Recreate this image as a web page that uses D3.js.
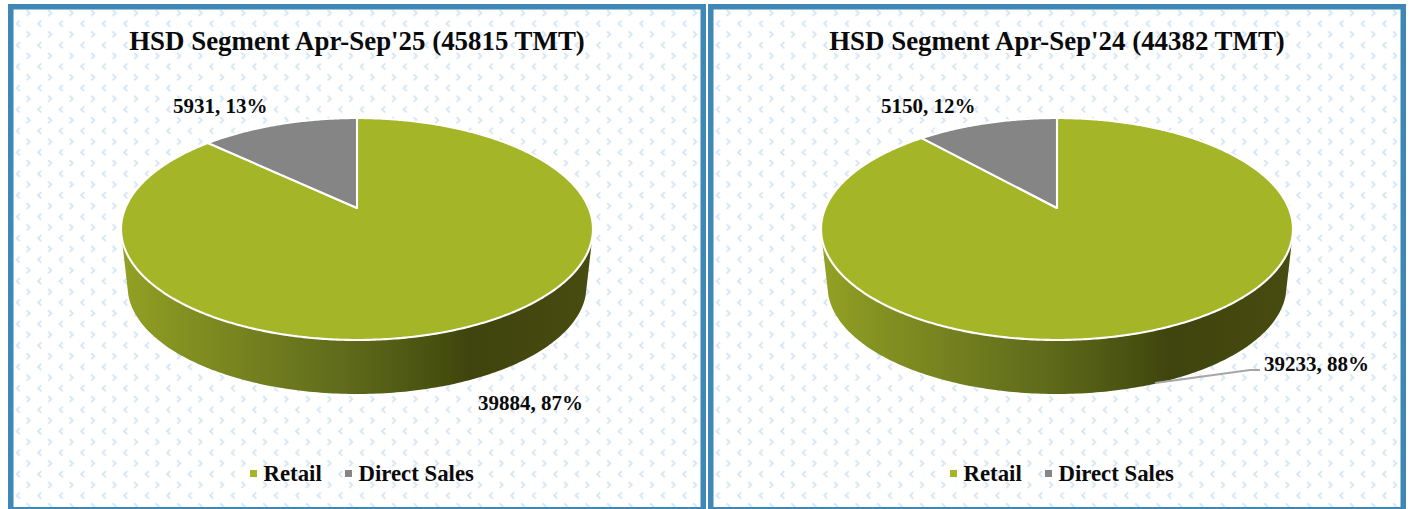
<!DOCTYPE html>
<html>
<head>
<meta charset="utf-8">
<script src="https://cdn.jsdelivr.net/npm/d3@7"></script>
<style>
  html, body { margin: 0; padding: 0; background: #fff; overflow: hidden; }
  text { font-family: "Liberation Serif", serif; font-weight: bold; fill: #0a0a0a; }
</style>
</head>
<body>
<div id="chart"></div>
<script>
// Data
var categories = ["Retail", "Direct Sales"];
var valuesSep25 = [39884, 5931];
var valuesSep24 = [39233, 5150];
var titleSep25 = "HSD Segment Apr-Sep'25 (45815 TMT)";
var titleSep24 = "HSD Segment Apr-Sep'24 (44382 TMT)";

// Colors
var sliceColor = d3.scaleOrdinal().domain(categories).range(["#a5b528", "#858585"]);
var borderColor = "#3f87b4";
var chevronColor = "#d3e5f3";

var width = 1411, height = 509;

var svg = d3.select("#chart").append("svg")
    .attr("width", width)
    .attr("height", height)
    .style("display", "block");

var defs = svg.append("defs");

// background tile, chevrons
var tile = defs.append("pattern")
    .attr("id", "chevrons")
    .attr("patternUnits", "userSpaceOnUse")
    .attr("x", 6.8).attr("y", 2)
    .attr("width", 21.5).attr("height", 21.45);
tile.append("path")
    .attr("d", "M19.8 8 L23 11 L19.8 14 M-1.7 8 L1.5 11 L-1.7 14")
    .attr("fill", "none").attr("stroke", chevronColor).attr("stroke-width", 1.8);
tile.append("path")
    .attr("d", "M13 18.7 L9.8 21.7 L13 24.7 M13 -2.75 L9.8 0.25 L13 3.25")
    .attr("fill", "none").attr("stroke", chevronColor).attr("stroke-width", 1.8);

var wallGradient = defs.append("linearGradient").attr("id", "wallGradient");
[[0, "#93a224"], [0.1, "#869422"], [0.48, "#5f6a1b"], [0.67, "#47500f"], [0.74, "#3f440e"], [1, "#484c10"]]
    .forEach(function (s) {
        wallGradient.append("stop").attr("offset", s[0]).attr("stop-color", s[1]);
    });

// 3D disc: perspective projection of the unit circle
var tilt = 0.1892, scaleY = 107, scaleX = 231.7;
var topRx = 236, topRy = 111, topCy = 229;
var bottomRx = 229.5, bottomRy = 108, bottomCy = 286;
var apexY = 208;

function project(angle) {
    var u = Math.sin(angle), v = -Math.cos(angle);
    var d = 1 - tilt * v;
    return [scaleX * u / d, apexY + scaleY * v / d];
}

function rimPoints(rx, ry, cy, fromDeg, toDeg) {
    return d3.range(fromDeg, toDeg + 0.01, 1).map(function (t) {
        var r = t * Math.PI / 180;
        return [rx * Math.cos(r), cy + ry * Math.sin(r)];
    });
}

var line = d3.line();
var pie = d3.pie().sort(null);

function percentLabel(values, i) {
    return values[i] + ", " + d3.format(".0%")(values[i] / d3.sum(values));
}

function drawPanel(opts) {
    var values = opts.values;
    var g = svg.append("g").attr("transform", "translate(" + opts.dx + ",0)");

    g.append("rect")
        .attr("x", 10.75).attr("y", 6.75)
        .attr("width", 692.5).attr("height", 503)
        .attr("fill", "url(#chevrons)")
        .attr("stroke", borderColor)
        .attr("stroke-width", 5.5);

    g.append("text")
        .attr("x", 357).attr("y", 50)
        .attr("text-anchor", "middle")
        .attr("font-size", 26.9)
        .text(opts.title);

    var disc = g.append("g").attr("transform", "translate(357,0)");

    // wall under the disc
    var wallTop = rimPoints(topRx, topRy, topCy, 2, 178);
    var wallBottom = rimPoints(bottomRx, bottomRy, bottomCy, 5, 175).reverse();
    disc.append("path")
        .attr("d", line(wallTop.concat(wallBottom)) + "Z")
        .attr("fill", "url(#wallGradient)");

    // slices
    disc.selectAll(".slice").data(pie(values)).enter().append("path")
        .attr("class", "slice")
        .attr("d", function (d) {
            var steps = d3.range(d.startAngle, d.endAngle, 0.01).concat([d.endAngle]);
            return line([[0, apexY]].concat(steps.map(project))) + "Z";
        })
        .attr("fill", function (d, i) { return sliceColor(categories[i]); })
        .attr("stroke", "#fff")
        .attr("stroke-width", 2.1)
        .attr("stroke-linejoin", "round");

    // data labels
    g.selectAll(".dataLabel").data(opts.labelPos).enter().append("text")
        .attr("class", "dataLabel")
        .attr("x", function (d) { return d[0]; })
        .attr("y", function (d) { return d[1]; })
        .attr("font-size", 21)
        .text(function (d, i) { return percentLabel(values, i); });

    if (opts.leader) {
        g.append("path")
            .attr("d", line(opts.leader))
            .attr("fill", "none")
            .attr("stroke", "#a6a6a6")
            .attr("stroke-width", 2);
    }

    // legend
    var legend = g.selectAll(".legendItem").data(categories).enter().append("g")
        .attr("class", "legendItem")
        .attr("transform", function (d, i) { return "translate(" + [250, 345][i] + ",0)"; });
    legend.append("rect")
        .attr("x", 0).attr("y", 470)
        .attr("width", 7).attr("height", 7)
        .attr("fill", function (d) { return sliceColor(d); });
    legend.append("text")
        .attr("x", 13.5).attr("y", 481)
        .attr("font-size", 22.8)
        .text(function (d) { return d; });
}

drawPanel({
    dx: 0,
    title: titleSep25,
    values: valuesSep25,
    labelPos: [[478, 410], [173, 113]]
});

drawPanel({
    dx: 700,
    title: titleSep24,
    values: valuesSep24,
    labelPos: [[564, 371], [181, 113]],
    leader: [[455, 383], [550, 370], [560, 370]]
});
</script>
</body>
</html>
